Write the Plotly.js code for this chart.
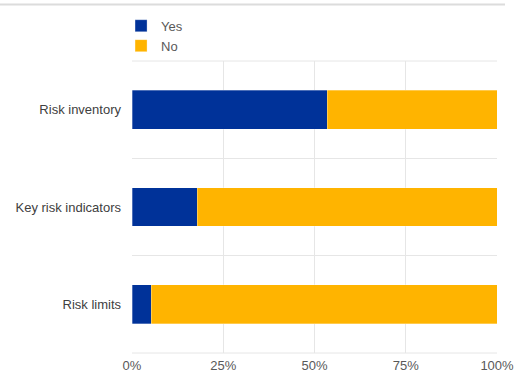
<!DOCTYPE html>
<html>
<head>
<meta charset="utf-8">
<script src="https://cdn.plot.ly/plotly-3.0.1.min.js"></script>
<style>html,body{margin:0;padding:0;background:#fff;}#chart{width:516px;height:374px;}</style>
</head>
<body>
<div id="chart"></div>
<script>
var categories = ["Risk inventory", "Key risk indicators", "Risk limits"];
var yesValues = [53.5, 17.9, 5.3];
var noValues = [46.5, 82.1, 94.7];
var xTickValues = [0, 25, 50, 75, 100];
var xTickLabels = ["0%", "25%", "50%", "75%", "100%"];

var traces = [
  {type: "bar", orientation: "h", name: "Yes", y: categories, x: yesValues,
   marker: {color: "#003299", line: {color: "rgba(255,255,255,0.5)", width: 0.6}}, hoverinfo: "none"},
  {type: "bar", orientation: "h", name: "No", y: categories, x: noValues,
   marker: {color: "#FFB400", line: {color: "rgba(255,255,255,0.5)", width: 0.6}}, hoverinfo: "none"}
];

var layout = {
  width: 516, height: 374,
  margin: {l: 132, r: 19, t: 60, b: 21, pad: 0},
  barmode: "stack",
  bargap: 0.6,
  paper_bgcolor: "#ffffff",
  plot_bgcolor: "#ffffff",
  font: {family: "Liberation Sans, Arial, sans-serif", size: 13, color: "#404040"},
  showlegend: true,
  legend: {x: -0.03, xanchor: "left", y: 1.168, yanchor: "top", orientation: "v",
           traceorder: "normal", font: {size: 13, color: "#595959"}, bgcolor: "rgba(0,0,0,0)", tracegroupgap: 0},
  xaxis: {range: [0, 100], tickvals: xTickValues, ticktext: xTickLabels, showgrid: true,
          gridcolor: "#e6e6e6", gridwidth: 1, zeroline: false, showline: false,
          tickfont: {size: 13, color: "#595959"}, fixedrange: true, ticks: "", ticklabelstandoff: 3},
  yaxis: {type: "category", categoryorder: "array", categoryarray: categories.slice().reverse(),
          tickson: "boundaries", showgrid: true, gridcolor: "#e6e6e6", gridwidth: 1,
          showline: false, zeroline: false, ticks: "", ticklabelstandoff: 10,
          tickfont: {size: 13, color: "#404040"}, fixedrange: true},
  shapes: [
    {type: "line", xref: "paper", yref: "paper", x0: -132/365, x1: 373/365, y0: 1 + 56.5/292, y1: 1 + 56.5/292,
     line: {color: "#dcdcdc", width: 2}},
    {type: "line", xref: "paper", yref: "paper", x0: 0, x1: 1, y0: 1, y1: 1,
     line: {color: "#e6e6e6", width: 1}, layer: "below"},
    {type: "line", xref: "paper", yref: "paper", x0: 0, x1: 1, y0: 0, y1: 0,
     line: {color: "#e6e6e6", width: 1}, layer: "below"}
  ]
};

Plotly.newPlot("chart", traces, layout, {displayModeBar: false, staticPlot: true});
</script>
</body>
</html>
